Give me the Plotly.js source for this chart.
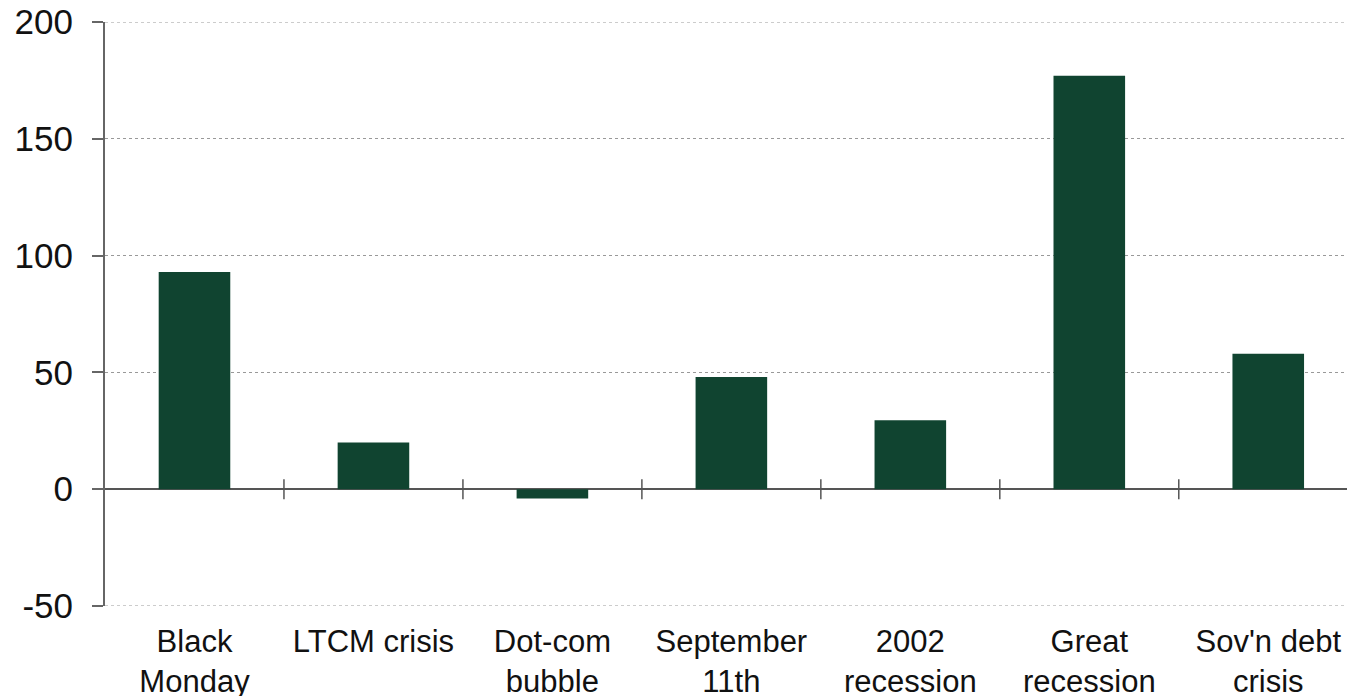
<!DOCTYPE html>
<html>
<head>
<meta charset="utf-8">
<script src="https://cdn.plot.ly/plotly-3.0.1.min.js"></script>
<style>
  html, body { margin: 0; padding: 0; background: #fff; }
  #chart { width: 1347px; height: 696px; }
</style>
</head>
<body>
<div id="chart"></div>
<script>
// Market episodes and their values
const categories = ["Black<br>Monday", "LTCM crisis", "Dot-com<br>bubble", "September<br>11th",
                    "2002<br>recession", "Great<br>recession", "Sov'n debt<br>crisis"];
const values = [93, 20, -4, 48, 29.5, 177, 58];
const yTicks = [-50, 0, 50, 100, 150, 200];

const idx = categories.map((_, i) => i);

const trace = {
  type: "bar",
  x: idx,
  y: values,
  marker: { color: "#104430", line: { width: 0 } },
  hoverinfo: "skip"
};

// small tick marks crossing the zero line between categories
const dividers = idx.slice(1).map(i => ({
  type: "line",
  xref: "x", yref: "y",
  ysizemode: "pixel", yanchor: 0,
  x0: i - 0.5, x1: i - 0.5, y0: -10, y1: 10,
  line: { color: "#555", width: 1.5 }
}));

// dotted gridlines at the top and bottom of the value range
const edgeGrid = [yTicks[0], yTicks[yTicks.length - 1]].map(v => ({
  type: "line",
  xref: "paper", yref: "y",
  x0: 0, x1: 1, y0: v, y1: v,
  line: { color: "#999", width: 1, dash: "dot" },
  layer: "below"
}));

const layout = {
  width: 1347, height: 696,
  margin: { l: 105, r: 0, t: 22, b: 90 },
  paper_bgcolor: "#fff", plot_bgcolor: "#fff",
  showlegend: false,
  bargap: 0.6,
  font: { family: "Liberation Sans, Arial, sans-serif", color: "#111" },
  xaxis: {
    range: [-0.5, 6.44],
    tickmode: "array",
    tickvals: idx,
    ticktext: categories,
    ticks: "",
    showgrid: false,
    zeroline: false,
    showline: false,
    tickfont: { size: 31, color: "#111" },
    ticklabelstandoff: 14
  },
  yaxis: {
    range: [-50, 200],
    tickmode: "array",
    tickvals: yTicks,
    ticktext: yTicks.map(String),
    ticks: "outside",
    ticklen: 11,
    tickwidth: 2,
    tickcolor: "#666",
    showline: true,
    linecolor: "#666",
    linewidth: 2,
    showgrid: true,
    gridcolor: "#999",
    griddash: "dot",
    gridwidth: 1,
    zeroline: true,
    zerolinecolor: "#555",
    zerolinewidth: 1.5,
    tickfont: { size: 35, color: "#111" },
    ticklabelstandoff: 12
  },
  shapes: edgeGrid.concat(dividers)
};

Plotly.newPlot("chart", [trace], layout, { displayModeBar: false, staticPlot: true });
</script>
</body>
</html>
